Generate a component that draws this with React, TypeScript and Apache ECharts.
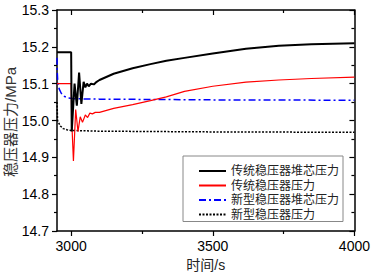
import React, { useEffect, useRef } from "react";
import * as echarts from "echarts";

// ---- data (time in s, pressure in MPa) ----
const seriesNames = ["传统稳压器堆芯压力", "传统稳压器压力", "新型稳压器堆芯压力", "新型稳压器压力"];
const yTitle = "稳压器压力/MPa";
const xTitle = "时间/s";

const tradCore: [number, number][] = [
  [2950, 15.185], [3000, 15.185], [3002, 14.97], [3012, 15.1], [3020, 15.04], [3028, 15.13],
  [3036, 15.045], [3044, 15.105], [3050, 15.09], [3056, 15.1], [3062, 15.093], [3070, 15.1],
  [3080, 15.098], [3090, 15.105], [3100, 15.11], [3150, 15.127], [3217, 15.142], [3280, 15.153],
  [3336, 15.162], [3400, 15.17], [3500, 15.182], [3617, 15.195], [3733, 15.203], [3848, 15.207],
  [4000, 15.21],
];

const tradPzr: [number, number][] = [
  [2950, 15.1], [3000, 15.1], [3002, 15.0], [3008, 14.89], [3016, 15.03], [3024, 14.97],
  [3032, 15.01], [3040, 14.995], [3050, 15.015], [3058, 15.008], [3066, 15.02], [3075, 15.018],
  [3085, 15.022], [3100, 15.022], [3150, 15.033], [3217, 15.043], [3280, 15.054], [3336, 15.064],
  [3400, 15.079], [3500, 15.093], [3617, 15.104], [3733, 15.11], [3848, 15.114], [4000, 15.118],
];

const newCore: [number, number][] = [
  [2950, 15.17], [2951, 15.13], [2953, 15.1], [2958, 15.085], [2965, 15.074], [2975, 15.066],
  [2990, 15.061], [3010, 15.059], [3100, 15.058], [3500, 15.056], [4000, 15.055],
];

const newPzr: [number, number][] = [
  [2950, 15.05], [2952, 15.0], [2955, 14.995], [2962, 14.985], [2972, 14.978], [2985, 14.975],
  [3000, 14.973], [3100, 14.971], [3500, 14.969], [4000, 14.968],
];

const xMajorTicks = [3000, 3500, 4000];
const xMinorTicks = [3250, 3750];
const X_MIN = 2950;
const X_MAX = 4000;
const Y_MIN = 14.7;
const Y_MAX = 15.3;
const Y_STEP = 0.1;

const LATIN = "'Liberation Sans', Arial, sans-serif";
const MIXED = "'Liberation Sans', 'Noto Sans CJK SC', sans-serif";

export default function App() {
  const ref = useRef<HTMLDivElement>(null);

  useEffect(() => {
    if (!ref.current) return;
    const chart = echarts.init(ref.current, undefined, { renderer: "svg" });
    const axisLine = { show: true, onZero: false, lineStyle: { color: "#000", width: 1.5 } };
    const tickLine = { color: "#000", width: 1.2 };

    const xBase = { type: "value" as const, min: X_MIN, max: X_MAX, splitLine: { show: false } };
    const yBase = {
      type: "value" as const, min: Y_MIN, max: Y_MAX, interval: Y_STEP, splitLine: { show: false },
    };

    chart.setOption({
      animation: false,
      backgroundColor: "#fff",
      grid: { left: 57, right: 17, top: 10, bottom: 46, containLabel: false },
      graphic: [
        {
          type: "text",
          x: 10,
          y: 122,
          rotation: Math.PI / 2,
          style: {
            text: yTitle,
            fontSize: 15,
            fontFamily: MIXED,
            fill: "#333",
            align: "center",
            verticalAlign: "middle",
          },
        },
      ],
      xAxis: [
        {
          ...xBase, position: "bottom", axisLine,
          axisTick: { show: true, customValues: xMajorTicks, length: 5, lineStyle: tickLine },
          axisLabel: {
            customValues: xMajorTicks, fontSize: 14, color: "#000", fontFamily: LATIN, margin: 8,
            formatter: (v: number) => String(v),
          },
          name: xTitle, nameLocation: "middle", nameGap: 27,
          nameTextStyle: { fontSize: 14, color: "#222", fontFamily: MIXED },
        },
        {
          ...xBase, position: "bottom", axisLine: { show: false },
          axisTick: { show: true, customValues: xMinorTicks, length: 3, lineStyle: tickLine },
          axisLabel: { show: false },
        },
        {
          ...xBase, position: "top", axisLine,
          axisTick: { show: true, inside: true, customValues: xMajorTicks, length: 5, lineStyle: tickLine },
          axisLabel: { show: false },
        },
        {
          ...xBase, position: "top", axisLine: { show: false },
          axisTick: { show: true, inside: true, customValues: xMinorTicks, length: 3, lineStyle: tickLine },
          axisLabel: { show: false },
        },
      ],
      yAxis: [
        {
          ...yBase, position: "left", axisLine,
          axisTick: { show: true, length: 5, lineStyle: tickLine },
          minorTick: { show: true, splitNumber: 2, length: 3, lineStyle: tickLine },
          axisLabel: {
            fontSize: 14, color: "#000", fontFamily: LATIN, margin: 8,
            formatter: (v: number) => v.toFixed(1),
          },
        },
        {
          ...yBase, position: "right", axisLine,
          axisTick: { show: true, inside: true, length: 5, lineStyle: tickLine },
          minorTick: { show: true, splitNumber: 2, length: 3, lineStyle: tickLine },
          axisLabel: { show: false },
        },
      ],
      legend: {
        orient: "vertical",
        left: 183,
        top: 156,
        padding: [9, 4, 1, 15],
        itemWidth: 27,
        itemHeight: 12,
        itemGap: 2.5,
        borderColor: "#888",
        borderWidth: 1,
        backgroundColor: "#fff",
        itemStyle: { opacity: 0 },
        textStyle: { fontSize: 12, color: "#222", fontFamily: MIXED, lineHeight: 12 },
        data: seriesNames,
      },
      series: [
        {
          name: seriesNames[0], type: "line", data: tradCore, symbol: "none", z: 4,
          lineStyle: { color: "#000", width: 2 }, itemStyle: { color: "#000" },
        },
        {
          name: seriesNames[1], type: "line", data: tradPzr, symbol: "none", z: 3,
          lineStyle: { color: "#ff0000", width: 1.2 }, itemStyle: { color: "#ff0000" },
        },
        {
          name: seriesNames[2], type: "line", data: newCore, symbol: "none", z: 2,
          lineStyle: { color: "#0000ff", width: 1.5, type: [7, 3, 2, 3] }, itemStyle: { color: "#0000ff" },
        },
        {
          name: seriesNames[3], type: "line", data: newPzr, symbol: "none", z: 2,
          lineStyle: { color: "#000", width: 1.5, type: [2, 1.5] }, itemStyle: { color: "#000" },
        },
      ],
    });
    return () => chart.dispose();
  }, []);

  return (
    <div
      ref={ref}
      style={{ position: "fixed", left: 0, top: 0, width: 373, height: 277, background: "#fff" }}
    />
  );
}
